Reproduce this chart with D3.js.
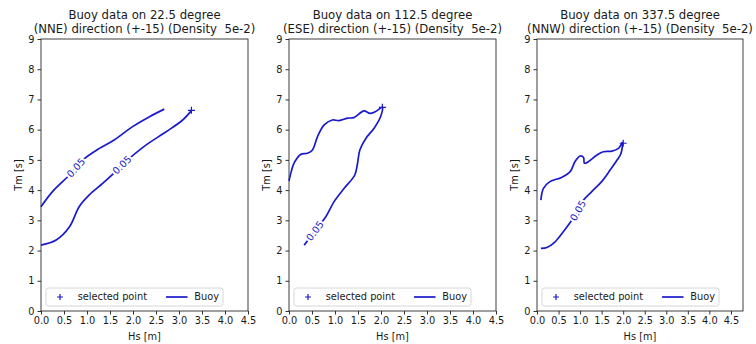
<!DOCTYPE html>
<html>
<head>
<meta charset="utf-8">
<script src="https://cdn.jsdelivr.net/npm/d3@7"></script>
<style>
  body { margin: 0; background: #fff; }
  svg { font-family: "DejaVu Sans", sans-serif; }
  text { white-space: pre; }
</style>
</head>
<body>
<div id="chart"></div>
<script>
// titles of the three panels
var titles = [
    ["Buoy data on 22.5 degree", "(NNE) direction (+-15) (Density  5e-2)"],
    ["Buoy data on 112.5 degree", "(ESE) direction (+-15) (Density  5e-2)"],
    ["Buoy data on 337.5 degree", "(NNW) direction (+-15) (Density  5e-2)"]
];
var xMaxes = [4.5, 4.5, 4.78];
var yMax = 9;
var xTicks = [0, 0.5, 1, 1.5, 2, 2.5, 3, 3.5, 4, 4.5];
var yTicks = [0, 1, 2, 3, 4, 5, 6, 7, 8, 9];
var levelLabel = "0.05";

// density contour lines [Hs, Tm]
var nneUpper = [[0, 3.45], [0.25, 3.95], [0.62, 4.5], [0.76, 4.74], [0.91, 5.0], [1.27, 5.38],
    [1.59, 5.66], [1.99, 6.1], [2.36, 6.43], [2.68, 6.68]];
var nneLower = [[0, 2.18], [0.33, 2.35], [0.62, 2.79], [0.83, 3.45], [1.05, 3.84], [1.34, 4.22],
    [1.62, 4.61], [1.76, 4.83], [1.92, 5.05], [2.28, 5.49], [2.72, 5.93], [3.08, 6.32], [3.27, 6.63]];
var eseLine = [[0, 4.3], [0.05, 4.62], [0.11, 4.89], [0.25, 5.18], [0.4, 5.22], [0.51, 5.33],
    [0.62, 5.77], [0.76, 6.15], [0.94, 6.32], [1.09, 6.3], [1.27, 6.38], [1.41, 6.4], [1.63, 6.62],
    [1.76, 6.54], [1.88, 6.6], [2.03, 6.74], [1.99, 6.43], [1.85, 6.05], [1.67, 5.71], [1.54, 5.33],
    [1.49, 4.89], [1.43, 4.5], [1.2, 4.06], [0.98, 3.62], [0.8, 3.12], [0.565, 2.65], [0.33, 2.18]];
var nnwLine = [[0.09, 3.67], [0.15, 4.06], [0.3, 4.28], [0.57, 4.42], [0.77, 4.61], [0.88, 4.94],
    [1.0, 5.13], [1.08, 5.08], [1.1, 4.89], [1.19, 4.94], [1.39, 5.16], [1.54, 5.27], [1.74, 5.29],
    [1.89, 5.38], [1.98, 5.57], [1.95, 5.22], [1.87, 5.02], [1.7, 4.67], [1.5, 4.28], [1.27, 3.95],
    [1.08, 3.67], [0.95, 3.32], [0.81, 3.01], [0.61, 2.62], [0.42, 2.29], [0.23, 2.1], [0.09, 2.07]];

var contourLines = [[nneUpper, nneLower], [eseLine], [nnwLine]];
// index of the vertex where the "0.05" label sits, per line
var labelIndex = [[3, 7], [25], [21]];
var selectedPoints = [[3.27, 6.64], [2.03, 6.74], [2.0, 5.55]];

var width = 756, height = 344;
var lineColor = "#1a1acc";
var textColor = "#1a1a1a";
var panelLeft = [41, 289, 537];
var plotW = 207, plotTop = 39, plotBottom = 311;

var svg = d3.select("#chart").append("svg")
    .attr("width", width)
    .attr("height", height);

function drawPanel(i) {
    var g = svg.append("g").attr("transform", "translate(" + panelLeft[i] + ",0)");
    var w = (i == 2) ? plotW - 1 : plotW;

    var x = d3.scaleLinear().domain([0, xMaxes[i]]).range([0, w]);
    var y = d3.scaleLinear().domain([0, yMax]).range([plotBottom, plotTop]);

    // axes
    var xAxis = d3.axisBottom(x).tickValues(xTicks).tickFormat(d3.format(".1f"))
        .tickSize(3.5).tickPadding(3);
    var yAxis = d3.axisLeft(y).tickValues(yTicks).tickFormat(d3.format("d"))
        .tickSize(3.5).tickPadding(3);

    var gx = g.append("g").attr("transform", "translate(0," + plotBottom + ")").call(xAxis);
    var gy = g.append("g").call(yAxis);
    [gx, gy].forEach(function (a) {
        a.select(".domain").remove();
        a.selectAll("line").attr("stroke", textColor).attr("stroke-width", 0.9);
        a.selectAll("text").attr("fill", textColor).attr("font-size", "9.8px")
            .attr("font-family", "DejaVu Sans, sans-serif");
    });

    // frame
    g.append("rect")
        .attr("x", 0).attr("y", plotTop)
        .attr("width", w).attr("height", plotBottom - plotTop)
        .attr("fill", "none").attr("stroke", "#2a2a2a").attr("stroke-width", 0.9);

    // contour lines
    var line = d3.line()
        .x(function (d) { return x(d[0]); })
        .y(function (d) { return y(d[1]); })
        .curve(d3.curveCatmullRom.alpha(0.5));

    contourLines[i].forEach(function (pts, j) {
        g.append("path")
            .attr("d", line(pts))
            .attr("fill", "none")
            .attr("stroke", lineColor)
            .attr("stroke-width", 1.7);

        var k = labelIndex[i][j];
        var a = pts[k - 1], b = pts[k + 1];
        var ang = Math.atan2(y(b[1]) - y(a[1]), x(b[0]) - x(a[0])) * 180 / Math.PI;
        if (ang > 90) ang -= 180;
        if (ang < -90) ang += 180;
        g.append("text")
            .attr("transform", "translate(" + x(pts[k][0]) + "," + y(pts[k][1]) + ") rotate(" + ang + ")")
            .attr("text-anchor", "middle")
            .attr("dy", "0.35em")
            .attr("font-size", "9.8px")
            .attr("fill", lineColor)
            .attr("stroke", "#fff")
            .attr("stroke-width", 4)
            .attr("paint-order", "stroke")
            .text(levelLabel);
    });

    // selected point
    var sp = selectedPoints[i];
    g.append("path")
        .attr("d", "M-3.5,0H3.5M0,-3.5V3.5")
        .attr("transform", "translate(" + x(sp[0]) + "," + y(sp[1]) + ")")
        .attr("stroke", lineColor)
        .attr("stroke-width", 1.2);

    // titles
    titles[i].forEach(function (t, j) {
        g.append("text")
            .attr("x", w / 2)
            .attr("y", 18.5 + j * 14)
            .attr("text-anchor", "middle")
            .attr("font-size", "11.7px")
            .attr("fill", textColor)
            .text(t);
    });

    // axis labels
    g.append("text")
        .attr("x", w / 2).attr("y", 340)
        .attr("text-anchor", "middle")
        .attr("font-size", "9.8px")
        .attr("fill", textColor)
        .text("Hs [m]");
    g.append("text")
        .attr("transform", "translate(-19.5," + ((plotTop + plotBottom) / 2) + ") rotate(-90)")
        .attr("text-anchor", "middle")
        .attr("font-size", "9.8px")
        .attr("fill", textColor)
        .text("Tm [s]");

    // legend, lower left
    var lg = g.append("g").attr("transform", "translate(5," + (plotBottom - 23) + ")");
    lg.append("rect")
        .attr("width", 177).attr("height", 18)
        .attr("rx", 2.5)
        .attr("fill", "#fff").attr("fill-opacity", 0.8)
        .attr("stroke", "#ccc").attr("stroke-width", 0.8);
    lg.append("path")
        .attr("d", "M-3,0H3M0,-3V3")
        .attr("transform", "translate(14,9)")
        .attr("stroke", lineColor).attr("stroke-width", 1.2);
    lg.append("text")
        .attr("x", 31.7).attr("y", 12.4)
        .attr("font-size", "9.8px").attr("fill", textColor)
        .text("selected point");
    lg.append("line")
        .attr("x1", 120).attr("x2", 141.5)
        .attr("y1", 9).attr("y2", 9)
        .attr("stroke", lineColor).attr("stroke-width", 1.7);
    lg.append("text")
        .attr("x", 148.3).attr("y", 12.4)
        .attr("font-size", "9.8px").attr("fill", textColor)
        .text("Buoy");
}

for (var p = 0; p < 3; p++) drawPanel(p);
</script>
</body>
</html>
